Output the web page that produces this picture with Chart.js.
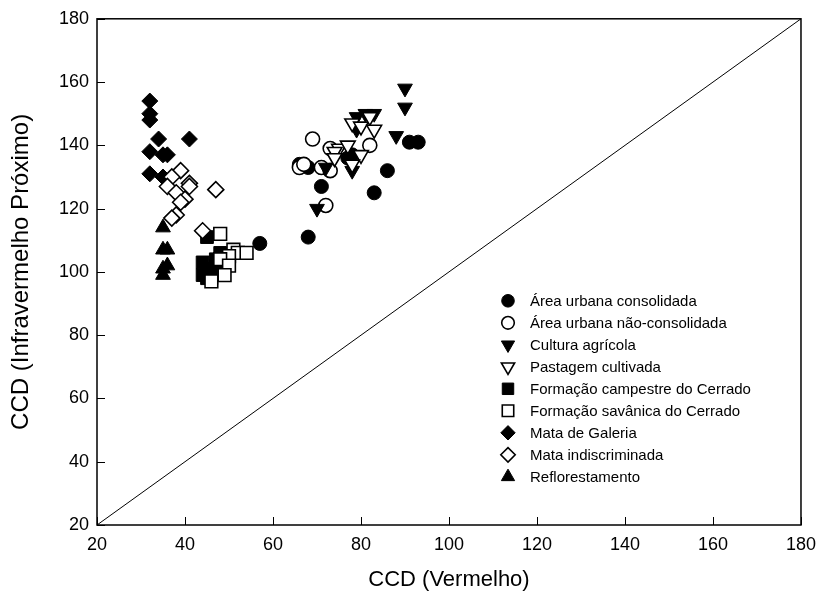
<!DOCTYPE html>
<html>
<head>
<meta charset="utf-8">
<script src="https://cdn.jsdelivr.net/npm/chart.js@4"></script>
<style>
  html, body { margin: 0; padding: 0; background: #fff; }
  #wrap { width: 825px; height: 607px; position: relative; }
</style>
</head>
<body>
<div id="wrap"><canvas id="chart"></canvas></div>
<script>
// ── DATA ──
const xTicks = [20, 40, 60, 80, 100, 120, 140, 160, 180];
const yTicks = [20, 40, 60, 80, 100, 120, 140, 160, 180];

const urbanaConsX = [57, 68, 71, 66, 68, 71, 77, 78, 83, 86, 91, 93];
const urbanaConsY = [109, 111, 127, 134, 133, 133, 136, 137, 125, 132, 141, 141];

const urbanaNaoX = [69, 66, 67, 71, 73, 73, 82, 72];
const urbanaNaoY = [142, 133, 134, 133, 132, 139, 140, 121];

const culturaX = [90, 90, 88, 70, 78, 79, 81, 83, 79, 72, 77];
const culturaY = [158, 152, 143, 120, 132, 149, 150, 150, 145, 133, 136];

const pastagemX = [78, 80, 82, 83, 75, 77, 74, 80, 78, 74];
const pastagemY = [147, 146, 149, 145, 139, 140, 138, 137, 134, 136];

const campestreX = [45, 44, 44, 45, 45, 46, 47, 48, 46, 47];
const campestreY = [111, 103, 99, 101, 98, 100, 104, 106, 98, 102];

const savanicaX = [48, 51, 52, 54, 50, 48, 50, 49, 46];
const savanicaY = [112, 107, 106, 106, 105, 104, 102, 99, 97];

const galeriaX = [32, 32, 32, 34, 41, 32, 35, 36, 32, 35];
const galeriaY = [154, 150, 148, 142, 142, 138, 137, 137, 131, 130];

const indiscX = [39, 37, 36, 41, 41, 38, 40, 39, 47, 38, 37, 44];
const indiscY = [132, 130, 127, 128, 127, 125, 123, 122, 126, 118, 117, 113];

const reflorX = [35, 35, 36, 35, 36, 35];
const reflorY = [114, 107, 107, 101, 102, 99];

const diagX = [20, 180];
const diagY = [20, 180];

const seriesNames = [
  'Área urbana consolidada',
  'Área urbana não-consolidada',
  'Cultura agrícola',
  'Pastagem cultivada',
  'Formação campestre do Cerrado',
  'Formação savânica do Cerrado',
  'Mata de Galeria',
  'Mata indiscriminada',
  'Reflorestamento'
];

// ── HELPERS ──
const pts = (xs, ys) => xs.map((x, i) => ({ x, y: ys[i] }));

const FONT = "'Liberation Sans', Arial, sans-serif";

const markerStyle = (style, filled, radius, rotation = 0) => ({
  pointStyle: style,
  pointRadius: radius,
  pointHoverRadius: radius,
  pointRotation: rotation,
  pointBackgroundColor: filled ? '#000' : '#fff',
  pointBorderColor: '#000',
  pointBorderWidth: filled ? 1 : 1.6,
  showLine: false
});

const markers = [
  markerStyle('circle', true, 7),
  markerStyle('circle', false, 7),
  markerStyle('triangle', true, 8.5, 180),
  markerStyle('triangle', false, 8.5, 180),
  markerStyle('rect', true, 9),
  markerStyle('rect', false, 9),
  markerStyle('rectRot', true, 8),
  markerStyle('rectRot', false, 8),
  markerStyle('triangle', true, 8.5)
];

const seriesData = [
  pts(urbanaConsX, urbanaConsY),
  pts(urbanaNaoX, urbanaNaoY),
  pts(culturaX, culturaY),
  pts(pastagemX, pastagemY),
  pts(campestreX, campestreY),
  pts(savanicaX, savanicaY),
  pts(galeriaX, galeriaY),
  pts(indiscX, indiscY),
  pts(reflorX, reflorY)
];

const datasets = seriesNames.map((name, i) => ({
  label: name,
  data: seriesData[i],
  order: 20 - i,
  ...markers[i]
}));

datasets.push({
  label: '1:1',
  data: pts(diagX, diagY),
  showLine: true,
  borderColor: '#000',
  borderWidth: 1,
  pointRadius: 0,
  order: 50
});

// ── FRAME, INWARD TICKS AND LEGEND ──
const framePlugin = {
  id: 'frame',
  afterDraw(chart) {
    const { ctx, chartArea: a, scales } = chart;
    ctx.save();
    ctx.strokeStyle = '#000';
    ctx.lineWidth = 1.5;
    ctx.strokeRect(a.left, a.top, a.right - a.left, a.bottom - a.top);
    ctx.lineWidth = 1;
    ctx.beginPath();
    xTicks.forEach(v => {
      const px = Math.round(scales.x.getPixelForValue(v)) + 0.5;
      ctx.moveTo(px, a.bottom);
      ctx.lineTo(px, a.bottom - 8);
    });
    yTicks.forEach(v => {
      const py = Math.round(scales.y.getPixelForValue(v)) + 0.5;
      ctx.moveTo(a.left, py);
      ctx.lineTo(a.left + 8, py);
    });
    ctx.stroke();

    // legend
    const lx = a.left + 411, ly0 = a.top + 282, step = 22;
    ctx.font = '15px ' + FONT;
    ctx.fillStyle = '#000';
    ctx.textBaseline = 'middle';
    seriesNames.forEach((name, i) => {
      const m = markers[i];
      const y = ly0 + i * step;
      ctx.fillStyle = m.pointBackgroundColor;
      ctx.strokeStyle = '#000';
      ctx.lineWidth = m.pointBorderWidth;
      Chart.helpers.drawPoint(ctx, {
        pointStyle: m.pointStyle,
        rotation: m.pointRotation,
        radius: m.pointRadius * 0.9,
        borderWidth: m.pointBorderWidth
      }, lx, y);
      ctx.fillStyle = '#000';
      ctx.fillText(name, lx + 22, y + 1);
    });
    ctx.restore();
  }
};

// ── CHART ──
new Chart(document.getElementById('chart'), {
  type: 'scatter',
  data: { datasets },
  plugins: [framePlugin],
  options: {
    animation: false,
    responsive: true,
    maintainAspectRatio: false,
    layout: { padding: { left: 0, top: 17, right: 17, bottom: 0 } },
    plugins: { legend: { display: false }, tooltip: { enabled: false } },
    scales: {
      x: {
        type: 'linear',
        min: 20,
        max: 180,
        afterFit: s => { s.height = 82; },
        afterBuildTicks: s => { s.ticks = xTicks.map(v => ({ value: v })); },
        grid: { display: false, drawTicks: false },
        border: { display: false },
        ticks: { color: '#000', padding: 9, font: { family: FONT, size: 18 } },
        title: {
          display: true,
          text: 'CCD (Vermelho)',
          color: '#000',
          padding: { top: 4, bottom: 14 },
          font: { family: FONT, size: 22 }
        }
      },
      y: {
        type: 'linear',
        min: 20,
        max: 180,
        afterFit: s => { s.width = 97; },
        afterBuildTicks: s => { s.ticks = yTicks.map(v => ({ value: v })); },
        grid: { display: false, drawTicks: false },
        border: { display: false },
        ticks: { color: '#000', padding: 8, font: { family: FONT, size: 18 } },
        title: {
          display: true,
          text: 'CCD (Infravermelho Próximo)',
          color: '#000',
          padding: { top: 7, bottom: 4 },
          font: { family: FONT, size: 24 }
        }
      }
    }
  }
});
</script>
</body>
</html>
